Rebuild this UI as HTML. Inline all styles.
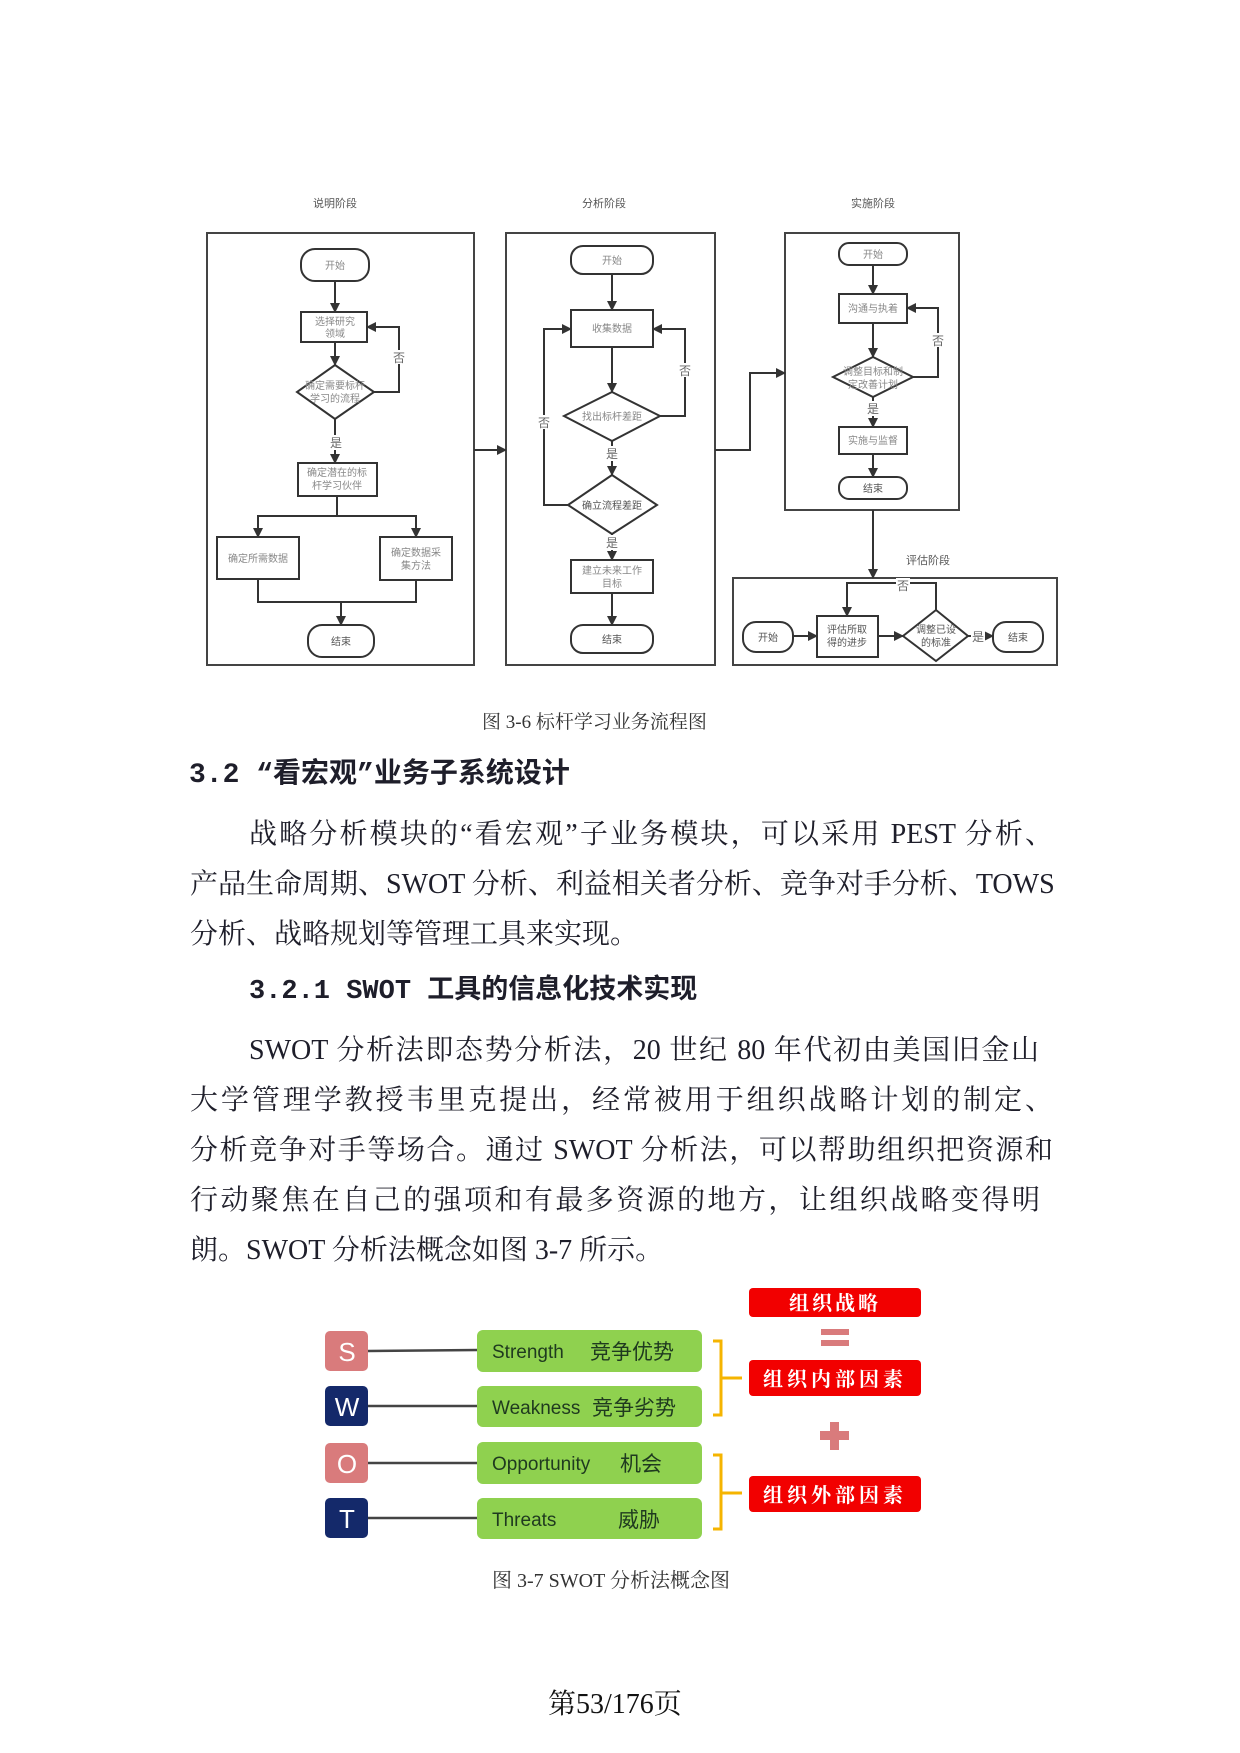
<!DOCTYPE html>
<html><head><meta charset="utf-8">
<style>
html,body{margin:0;padding:0;background:#fff;}
body{width:1240px;height:1753px;position:relative;overflow:hidden;font-family:"Liberation Serif","Noto Serif CJK SC",serif;color:#1e1e2a;}
.t{position:absolute;white-space:nowrap;}
.p{position:absolute;font-size:28px;white-space:nowrap;text-align:justify;text-align-last:justify;}
</style></head><body>
<svg width="1240" height="700" style="position:absolute;left:0;top:0" xmlns="http://www.w3.org/2000/svg">
<defs><marker id="a" viewBox="0 0 10 10" refX="9" refY="5" markerWidth="5" markerHeight="5" orient="auto"><path d="M0,0L10,5L0,10z" fill="#333"/></marker></defs>
<g font-family="Liberation Sans,Noto Sans CJK SC,sans-serif" font-size="11" fill="#777" text-anchor="middle">
<text x="335" y="207" fill="#555">说明阶段</text>
<text x="604" y="207" fill="#555">分析阶段</text>
<text x="873" y="207" fill="#555">实施阶段</text>
<text x="928" y="564" fill="#555">评估阶段</text>
</g>
<g stroke="#444" stroke-width="2" fill="none">
<rect x="207" y="233" width="267" height="432"/>
<rect x="506" y="233" width="209" height="432"/>
<rect x="785" y="233" width="174" height="277"/>
<rect x="733" y="578" width="324" height="87"/>
</g>
<g stroke="#333" stroke-width="2" fill="#fff">
<rect x="301" y="249" width="68" height="32" rx="14"/>
<rect x="301" y="312" width="66" height="30"/>
<polygon points="335,365 374,392 335,419 297,392"/>
<rect x="298" y="463" width="79" height="33"/>
<rect x="217" y="537" width="82" height="42"/>
<rect x="380" y="537" width="72" height="43"/>
<rect x="308" y="625" width="66" height="32" rx="14"/>
<rect x="571" y="246" width="82" height="28" rx="12"/>
<rect x="571" y="310" width="82" height="37"/>
<polygon points="612,392 660,416 612,441 564,416"/>
<polygon points="612,475 657,505 612,534 568,505"/>
<rect x="571" y="560" width="82" height="33"/>
<rect x="571" y="625" width="82" height="28" rx="12"/>
<rect x="839" y="243" width="68" height="22" rx="10"/>
<rect x="839" y="294" width="68" height="29"/>
<polygon points="873,357 913,377 873,397 833,377"/>
<rect x="839" y="427" width="68" height="27"/>
<rect x="839" y="477" width="68" height="22" rx="10"/>
<rect x="743" y="622" width="50" height="30" rx="13"/>
<rect x="817" y="616" width="61" height="41"/>
<polygon points="936,610 968,636 936,661 903,636"/>
<rect x="993" y="622" width="50" height="30" rx="13"/>
</g>
<g stroke="#333" stroke-width="2" fill="none" marker-end="url(#a)">
<path d="M335 281V312"/><path d="M335 342V365"/>
<path d="M374 392H399V327H367"/>
<path d="M335 419V463"/>
<path d="M337 496V516H258V537"/><path d="M337 516H416V537"/>
<path d="M258 579V602H416V580M341 602V625"/>
<path d="M474 450H506"/>
<path d="M612 274V310"/><path d="M612 347V392"/>
<path d="M660 416H685V329H653"/>
<path d="M612 441V475"/>
<path d="M568 505H544V329H571"/>
<path d="M612 534V560"/><path d="M612 593V625"/>
<path d="M715 450H750V373H785"/>
<path d="M873 265V294"/><path d="M873 323V357"/>
<path d="M913 377H938V308H907"/>
<path d="M873 397V427"/><path d="M873 454V477"/>
<path d="M873 510V578"/>
<path d="M793 636H817"/><path d="M878 636H903"/><path d="M968 636H993"/>
<path d="M936 610V583H847V616"/>
</g>
<g fill="#fff">
<rect x="392" y="350" width="14" height="14"/><rect x="329" y="435" width="14" height="15"/>
<rect x="678" y="363" width="14" height="14"/><rect x="537" y="415" width="14" height="14"/>
<rect x="605" y="446" width="14" height="15"/><rect x="605" y="535" width="14" height="15"/>
<rect x="931" y="333" width="14" height="14"/><rect x="866" y="401" width="14" height="15"/>
<rect x="971" y="629" width="14" height="14"/><rect x="896" y="578" width="14" height="14"/>
</g>
<g font-family="Liberation Sans,Noto Sans CJK SC,sans-serif" font-size="12" fill="#666" text-anchor="middle">
<text x="399" y="362">否</text><text x="336" y="447">是</text>
<text x="685" y="375">否</text><text x="544" y="427">否</text>
<text x="612" y="458">是</text><text x="612" y="547">是</text>
<text x="938" y="345">否</text><text x="873" y="413">是</text>
<text x="978" y="641">是</text><text x="903" y="590">否</text>
</g>
<g font-family="Liberation Sans,Noto Sans CJK SC,sans-serif" font-size="10" fill="#888" text-anchor="middle">
<text x="335" y="269">开始</text>
<text x="335" y="325">选择研究</text><text x="335" y="337">领域</text>
<text x="335" y="389">确定需要标杆</text><text x="335" y="402">学习的流程</text>
<text x="337" y="476">确定潜在的标</text><text x="337" y="489">杆学习伙伴</text>
<text x="258" y="562">确定所需数据</text>
<text x="416" y="556">确定数据采</text><text x="416" y="569">集方法</text>
<text x="341" y="645" fill="#555">结束</text>
<text x="612" y="264">开始</text>
<text x="612" y="332">收集数据</text>
<text x="612" y="420">找出标杆差距</text>
<text x="612" y="509" fill="#555">确立流程差距</text>
<text x="612" y="574">建立未来工作</text><text x="612" y="587">目标</text>
<text x="612" y="643" fill="#555">结束</text>
<text x="873" y="258">开始</text>
<text x="873" y="312">沟通与执着</text>
<text x="873" y="375">调整目标和制</text><text x="873" y="388">定改善计划</text>
<text x="873" y="444">实施与监督</text>
<text x="873" y="492" fill="#555">结束</text>
<text x="768" y="641" fill="#555">开始</text>
<text x="847" y="633" fill="#555">评估所取</text><text x="847" y="646" fill="#555">得的进步</text>
<text x="936" y="633" fill="#555">调整已设</text><text x="936" y="646" fill="#555">的标准</text>
<text x="1018" y="641" fill="#555">结束</text>
</g>
</svg>

<div class="t" style="left:482px;top:707px;font-size:19px;color:#333;">图 3-6  标杆学习业务流程图</div>
<div class="t" style="left:189px;top:751px;font-size:28px;font-weight:bold;font-family:'Liberation Mono','Noto Sans CJK SC',sans-serif;">3.2 “看宏观”业务子系统设计</div>
<div class="p" style="left:249px;top:812px;width:804px;">战略分析模块的“看宏观”子业务模块，可以采用 PEST 分析、</div>
<div class="p" style="left:190px;top:862px;width:863px;">产品生命周期、SWOT 分析、利益相关者分析、竞争对手分析、TOWS</div>
<div class="t" style="left:190px;top:912px;font-size:28px;">分析、战略规划等管理工具来实现。</div>
<div class="t" style="left:249px;top:967px;font-size:27px;font-weight:bold;font-family:'Liberation Mono','Noto Sans CJK SC',sans-serif;">3.2.1 SWOT 工具的信息化技术实现</div>
<div class="p" style="left:249px;top:1028px;width:790px;">SWOT 分析法即态势分析法，20 世纪 80 年代初由美国旧金山</div>
<div class="p" style="left:190px;top:1078px;width:863px;">大学管理学教授韦里克提出，经常被用于组织战略计划的制定、</div>
<div class="p" style="left:190px;top:1128px;width:863px;">分析竞争对手等场合。通过 SWOT 分析法，可以帮助组织把资源和</div>
<div class="p" style="left:190px;top:1178px;width:850px;">行动聚焦在自己的强项和有最多资源的地方，让组织战略变得明</div>
<div class="t" style="left:190px;top:1228px;font-size:28px;">朗。SWOT 分析法概念如图 3-7 所示。</div>

<svg width="1240" height="300" style="position:absolute;left:0;top:1280px" xmlns="http://www.w3.org/2000/svg" font-family="Liberation Sans,Noto Sans CJK SC,sans-serif">
<g stroke="#444" stroke-width="2.5">
<line x1="368" y1="71" x2="478" y2="70"/><line x1="368" y1="126" x2="478" y2="126"/>
<line x1="368" y1="183" x2="478" y2="183"/><line x1="368" y1="238" x2="478" y2="238"/>
</g>
<rect x="325" y="51" width="43" height="40" rx="5" fill="#d97b7c"/>
<rect x="325" y="106" width="43" height="40" rx="5" fill="#14296a"/>
<rect x="325" y="163" width="43" height="40" rx="5" fill="#d97b7c"/>
<rect x="325" y="218" width="43" height="40" rx="5" fill="#14296a"/>
<g fill="#fff" font-size="26" text-anchor="middle">
<text x="347" y="81">S</text><text x="347" y="136">W</text><text x="347" y="193">O</text><text x="347" y="248">T</text>
</g>
<g fill="#8fd14f">
<rect x="477" y="50" width="225" height="42" rx="6"/>
<rect x="477" y="106" width="225" height="41" rx="6"/>
<rect x="477" y="162" width="225" height="42" rx="6"/>
<rect x="477" y="218" width="225" height="41" rx="6"/>
</g>
<g fill="#1f3a1f" font-size="19">
<text x="492" y="78">Strength</text><text x="590" y="79" font-size="21">竞争优势</text>
<text x="492" y="134">Weakness</text><text x="592" y="135" font-size="21">竞争劣势</text>
<text x="492" y="190">Opportunity</text><text x="620" y="191" font-size="21">机会</text>
<text x="492" y="246">Threats</text><text x="618" y="247" font-size="21">威胁</text>
</g>
<g stroke="#f5b400" stroke-width="3" fill="none">
<path d="M713 61H721V135H713M721 98H742"/>
<path d="M713 175H721V249H713M721 213H742"/>
</g>
<g fill="#f20000">
<rect x="749" y="8" width="172" height="29" rx="4"/>
<rect x="749" y="80" width="172" height="36" rx="4"/>
<rect x="749" y="196" width="172" height="36" rx="4"/>
</g>
<g fill="#d97b7c">
<rect x="821" y="49" width="28" height="6"/><rect x="821" y="60" width="28" height="6"/>
<rect x="830" y="142" width="9" height="28"/><rect x="820" y="151" width="29" height="9"/>
</g>
<g fill="#fff" font-size="20" font-weight="bold" text-anchor="middle" font-family="Liberation Serif,Noto Serif CJK SC,serif">
<text x="835" y="30" letter-spacing="3">组织战略</text>
<text x="835" y="106" letter-spacing="4">组织内部因素</text>
<text x="835" y="222" letter-spacing="4">组织外部因素</text>
</g>
</svg>

<div class="t" style="left:492px;top:1564px;font-size:20px;color:#333;">图 3-7 SWOT 分析法概念图</div>
<div class="t" style="left:548px;top:1682px;font-size:28px;color:#111;">第53/176页</div>
</body></html>
